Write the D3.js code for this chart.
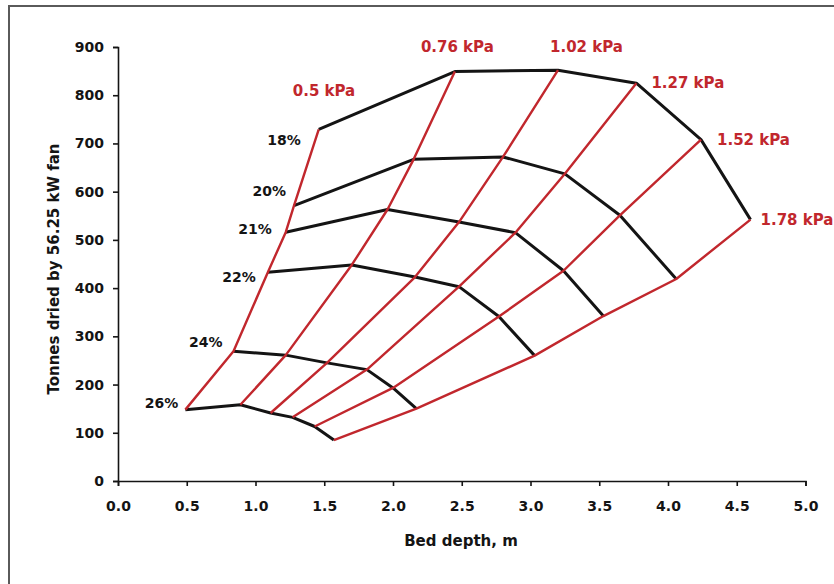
<!DOCTYPE html>
<html>
<head>
<meta charset="utf-8">
<script src="https://cdn.jsdelivr.net/npm/d3@7"></script>
<style>
  html, body { margin: 0; padding: 0; background: #fff; }
  svg { display: block; }
  text { font-family: "DejaVu Sans", sans-serif; font-weight: bold; }
</style>
</head>
<body>
<svg id="chart" width="834" height="584"></svg>
<script>
// Fan pressure curves (red) and grain moisture contours (black)
const pressures = ["0.5 kPa", "0.76 kPa", "1.02 kPa", "1.27 kPa", "1.52 kPa", "1.78 kPa"];
const moistures = ["18%", "20%", "21%", "22%", "24%", "26%"];

// Bed depth (m) for each moisture row, one value per pressure
const depth18 = [1.46, 2.45, 3.20, 3.77, 4.24, 4.60];
const depth20 = [1.28, 2.15, 2.80, 3.25, 3.65, 4.06];
const depth21 = [1.22, 1.96, 2.48, 2.89, 3.24, 3.53];
const depth22 = [1.09, 1.70, 2.16, 2.48, 2.77, 3.03];
const depth24 = [0.84, 1.22, 1.52, 1.81, 2.00, 2.17];
const depth26 = [0.49, 0.89, 1.11, 1.27, 1.43, 1.57];

// Tonnes dried by 56.25 kW fan for each moisture row, one value per pressure
const tonnes18 = [729, 849, 852, 825, 708, 542];
const tonnes20 = [571, 667, 672, 637, 551, 419];
const tonnes21 = [516, 563, 537, 515, 436, 342];
const tonnes22 = [433, 448, 423, 403, 341, 260];
const tonnes24 = [269, 261, 245, 231, 193, 150];
const tonnes26 = [148, 158, 141, 132, 113, 85];

const xTicks = [0, 0.5, 1, 1.5, 2, 2.5, 3, 3.5, 4, 4.5, 5];
const yTicks = [0, 100, 200, 300, 400, 500, 600, 700, 800, 900];

const depthRows = [depth18, depth20, depth21, depth22, depth24, depth26];
const tonneRows = [tonnes18, tonnes20, tonnes21, tonnes22, tonnes24, tonnes26];

// grid[m][p] = [depth, tonnes]
const grid = depthRows.map((row, m) => row.map((d, p) => [d, tonneRows[m][p]]));

const svg = d3.select("#chart");
const RED = "#c1272d";
const INK = "#141414";

const x = d3.scaleLinear().domain([0, 5]).range([118, 805.5]);
const y = d3.scaleLinear().domain([0, 900]).range([481, 47]);

// outer frame
svg.append("rect")
  .attr("x", 9).attr("y", 6).attr("width", 840).attr("height", 600)
  .attr("fill", "none").attr("stroke", "#5a5a5a").attr("stroke-width", 2);

// axes
const xAxis = svg.append("g").attr("transform", `translate(0,${y(0)})`)
  .call(d3.axisBottom(x).tickValues(xTicks).tickFormat(d3.format(".1f")).tickSize(5).tickPadding(15));
const yAxis = svg.append("g").attr("transform", `translate(${x(0)},0)`)
  .call(d3.axisLeft(y).tickValues(yTicks).tickFormat(d3.format("d")).tickSize(5).tickPadding(9));
[xAxis, yAxis].forEach(g => {
  g.select(".domain").attr("stroke", INK).attr("stroke-width", 1.6);
  g.selectAll(".tick line").attr("stroke", INK).attr("stroke-width", 1.6);
  g.selectAll(".tick text").attr("fill", INK)
    .style("font-family", "'DejaVu Sans', sans-serif").style("font-weight", "bold").style("font-size", "14px");
});

// axis titles
svg.append("text")
  .attr("x", 461).attr("y", 546).attr("text-anchor", "middle")
  .attr("fill", INK).style("font-size", "15px")
  .text("Bed depth, m");
svg.append("text")
  .attr("transform", "translate(59,269) rotate(-90)").attr("text-anchor", "middle")
  .attr("fill", INK).style("font-size", "15px")
  .text("Tonnes dried by 56.25 kW fan");

const line = d3.line().x(d => x(d[0])).y(d => y(d[1]));

// moisture contours (black)
svg.append("g").selectAll("path").data(grid).join("path")
  .attr("d", line).attr("fill", "none").attr("stroke", INK)
  .attr("stroke-width", 3).attr("stroke-linejoin", "round");

// pressure curves (red), drawn from 26% up to 18%
const pressureLines = pressures.map((_, p) => grid.map(row => row[p]).reverse());
svg.append("g").selectAll("path").data(pressureLines).join("path")
  .attr("d", line).attr("fill", "none").attr("stroke", RED)
  .attr("stroke-width", 2.4).attr("stroke-linejoin", "round");

// pressure labels next to the top end of each red curve
const pLabelOffset = [[-26, -33], [-34, -20], [-8, -18], [15, 5], [16, 5], [10, 5]];
svg.append("g").selectAll("text").data(pressures).join("text")
  .attr("x", (d, p) => x(grid[0][p][0]) + pLabelOffset[p][0])
  .attr("y", (d, p) => y(grid[0][p][1]) + pLabelOffset[p][1])
  .attr("fill", RED).style("font-size", "15px")
  .text(d => d);

// moisture labels to the left of each black contour
const mLabelOffset = [[-18, 16], [-8, -10], [-14, 2], [-12, 10], [-11, -4], [-7, -2]];
svg.append("g").selectAll("text").data(moistures).join("text")
  .attr("x", (d, m) => x(grid[m][0][0]) + mLabelOffset[m][0])
  .attr("y", (d, m) => y(grid[m][0][1]) + mLabelOffset[m][1])
  .attr("text-anchor", "end").attr("fill", INK).style("font-size", "14px")
  .text(d => d);
</script>
</body>
</html>
